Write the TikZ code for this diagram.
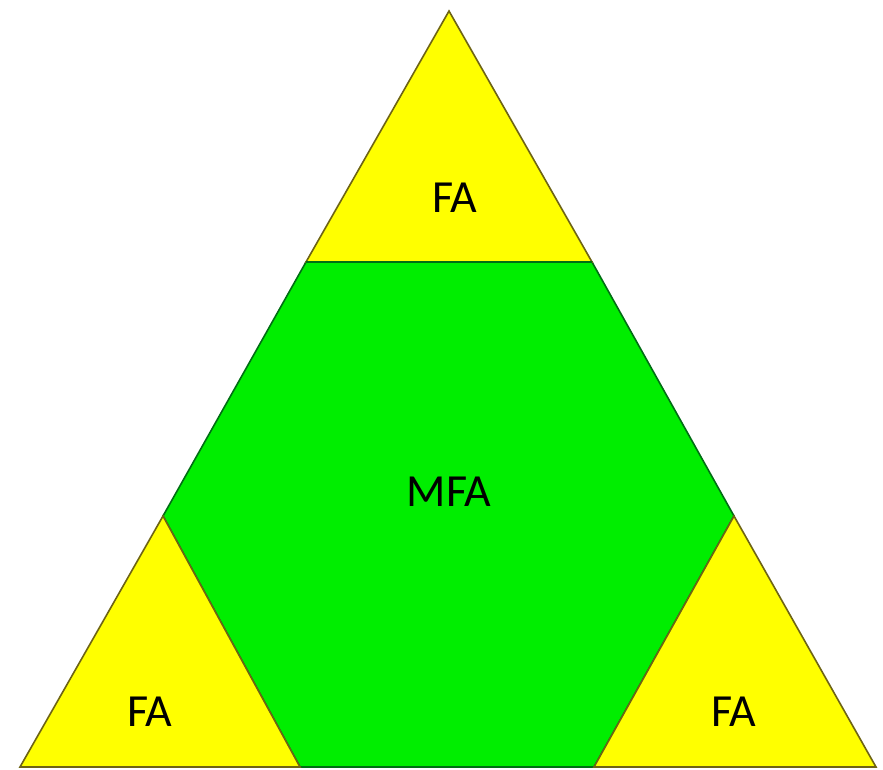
\documentclass[tikz,border=0pt]{standalone}
\usepackage{fontspec}
\setmainfont{Carlito}
\definecolor{fayellow}{RGB}{255,255,0}
\definecolor{fagreen}{RGB}{0,238,0}
\definecolor{yedge}{RGB}{110,100,20}
\definecolor{gedge}{RGB}{0,110,20}
\begin{document}
\begin{tikzpicture}[x=1pt,y=-1pt,
  yfill/.style={fill=fayellow,draw=yedge,line width=1.6pt,line join=miter},
  gfill/.style={fill=fagreen,draw=gedge,line width=1.6pt,line join=miter},
  lbl/.style={font=\fontsize{46}{54}\selectfont,inner sep=0pt}]
\useasboundingbox (0,0) rectangle (883,770);
\fill[white] (0,0) rectangle (883,770);
% corners of the big triangle
\coordinate (A) at (449,11);
\coordinate (L) at (20,767);
\coordinate (R) at (876,767);
% cut points
\coordinate (tl) at (306,262);
\coordinate (tr) at (592,262);
\coordinate (lt) at (163,516);
\coordinate (lb) at (300,767);
\coordinate (rt) at (734,516);
\coordinate (rb) at (594,767);
% green hexagon
\draw[gfill] (tl) -- (tr) -- (rt) -- (rb) -- (lb) -- (lt) -- cycle;
% yellow triangles
\draw[yfill] (A) -- (tr) -- (tl) -- cycle;
\draw[yfill] (lt) -- (lb) -- (L) -- cycle;
\draw[yfill] (rt) -- (R) -- (rb) -- cycle;
% separator between top triangle and hexagon
\draw[gedge,line width=2.4pt] (tl) -- (tr);
% labels
\node[lbl] (top) at (455,198) {FA};
\node[lbl] (mid) at (449,492) {MFA};
\node[lbl] (left) at (150,712) {FA};
\node[lbl] (right) at (734,712) {FA};
\end{tikzpicture}
\end{document}
